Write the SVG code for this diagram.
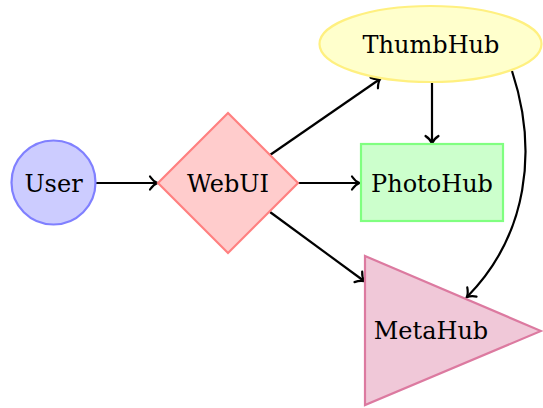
<svg xmlns="http://www.w3.org/2000/svg" width="543" height="408" viewBox="0 0 543 408">
<defs>
<marker id="arr" markerUnits="userSpaceOnUse" viewBox="-10 -10 14 20" markerWidth="14" markerHeight="20" refX="0" refY="0" orient="auto" overflow="visible">
<path d="M-7,-6.5 C-4.5,-2.8 -1.5,-0.7 0.5,0 C-1.5,0.7 -4.5,2.8 -7,6.5" fill="none" stroke="#000" stroke-width="2.2" stroke-linecap="round"/>
</marker>
<style>
text{font-family:"DejaVu Serif","Liberation Serif",serif;font-size:24px;fill:#000;text-anchor:middle}
.edge{fill:none;stroke:#000;stroke-width:2.2;marker-end:url(#arr)}
.n{stroke-width:2.2}
</style>
</defs>
<g id="connectors">
<path class="edge" d="M96,183 L157,183"/>
<path class="edge" d="M298,183 L359,183"/>
<path class="edge" d="M270,155 L380,79"/>
<path class="edge" d="M270,212 L364,281"/>
<path class="edge" d="M432,82 L432,143"/>
<path class="edge" d="M512,71 C538,150 528,235 467,297"/>
</g>
<g id="User">
<circle class="n" cx="53.5" cy="182.5" r="42" fill="#ccccff" stroke="#8080ff"/>
<text x="53.5" y="192">User</text>
</g>
<g id="WebUI">
<polygon class="n" points="228,113 298,183 228,253 158,183" fill="#ffcccc" stroke="#ff8080"/>
<text x="228" y="192">WebUI</text>
</g>
<g id="ThumbHub">
<ellipse class="n" cx="430.5" cy="44" rx="111" ry="38" fill="#ffffcc" stroke="#fff080"/>
<text x="431" y="53">ThumbHub</text>
</g>
<g id="PhotoHub">
<rect class="n" x="361" y="144" width="142" height="77" fill="#ccffcc" stroke="#80ff80"/>
<text x="432" y="192">PhotoHub</text>
</g>
<g id="MetaHub">
<polygon class="n" points="365,256 541,331 365,405" fill="#f0c8d8" stroke="#dc7aa0"/>
<text x="431" y="339">MetaHub</text>
</g>
</svg>
